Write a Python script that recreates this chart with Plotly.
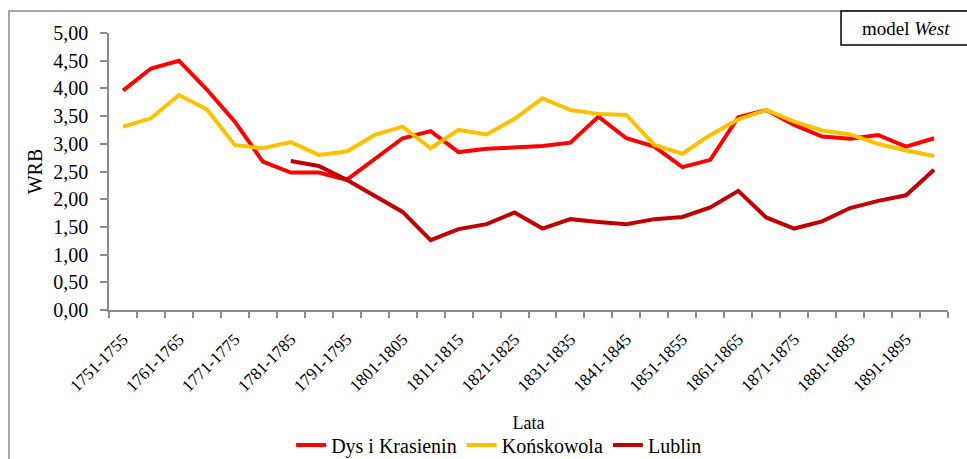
import plotly.graph_objects as go

# Five-year periods 1751-1755 ... 1896-1900
periods = [f"{y}-{y + 4}" for y in range(1751, 1900, 5)]

dys_krasienin = [3.96, 4.36, 4.50, 3.98, 3.40, 2.68, 2.48, 2.48, 2.35, 2.72,
                 3.10, 3.23, 2.85, 2.91, 2.94, 2.96, 3.02, 3.49, 3.10, 2.95,
                 2.58, 2.71, 3.48, 3.61, 3.34, 3.13, 3.09, 3.16, 2.95, 3.10]

konskowola = [3.31, 3.46, 3.88, 3.62, 2.98, 2.92, 3.03, 2.80, 2.86, 3.16,
              3.31, 2.92, 3.25, 3.17, 3.45, 3.82, 3.61, 3.54, 3.52, 2.98,
              2.82, 3.16, 3.44, 3.61, 3.40, 3.24, 3.17, 3.00, 2.88, 2.78]

lublin = [None, None, None, None, None, None, 2.69, 2.60, 2.35, 2.05,
          1.77, 1.26, 1.46, 1.55, 1.76, 1.47, 1.64, 1.59, 1.55, 1.64,
          1.68, 1.85, 2.15, 1.67, 1.47, 1.60, 1.84, 1.97, 2.07, 2.53]

series = [
    ("Dys i Krasienin", dys_krasienin, "#FF0000"),
    ("Końskowola", konskowola, "#FFC000"),
    ("Lublin", lublin, "#C00000"),
]

FONT = "Liberation Serif"
INK = "#000000"
GRAY = "#8c8c8c"


def serif(size):
    return dict(family=FONT, size=size, color=INK)


idx = list(range(len(periods)))

fig = go.Figure()
for name, vals, color in series:
    fig.add_trace(go.Scatter(
        x=idx, y=vals, name=name, mode="lines",
        line=dict(color=color, width=4),
        connectgaps=False,
    ))

fig.update_layout(
    width=967, height=459,
    margin=dict(l=109, r=19, t=33, b=149, autoexpand=False),
    paper_bgcolor="white", plot_bgcolor="white",
    separators=", ",
    showlegend=True,
    legend=dict(orientation="h", x=0.465, xanchor="center",
                y=-0.487, yanchor="middle",
                font=serif(20),
                itemwidth=30, tracegroupgap=0),
    xaxis=dict(
        range=[-0.5, len(periods) - 0.5],
        tickmode="array",
        tickvals=idx[::2],
        ticktext=periods[::2],
        tickangle=-45,
        ticks="",
        ticklabelstandoff=11,
        automargin=False,
        showline=True, linecolor=GRAY, linewidth=1.5,
        showgrid=False, zeroline=False,
        minor=dict(tickmode="array",
                   tickvals=[i - 0.5 for i in range(len(periods) + 1)],
                   ticks="outside", ticklen=6, tickcolor=GRAY, tickwidth=1.5,
                   showgrid=False),
        tickfont=serif(17),
        title=dict(text="Lata", font=serif(18), standoff=22),
    ),
    yaxis=dict(
        range=[0, 5],
        tickmode="array",
        tickvals=[0, 0.5, 1, 1.5, 2, 2.5, 3, 3.5, 4, 4.5, 5],
        tickformat=".2f",
        ticks="outside", ticklen=7, tickcolor=GRAY, tickwidth=1.5,
        ticklabelstandoff=8,
        automargin=False,
        showline=True, linecolor=GRAY, linewidth=1.5,
        showgrid=False, zeroline=False,
        tickfont=serif(20),
        title=dict(text="WRB", font=serif(20), standoff=5),
    ),
)

# Outer chart frame
fig.add_shape(type="rect", xref="paper", yref="paper",
              x0=-0.1192, x1=1.2, y0=-1.0, y1=1.0794,
              line=dict(color=GRAY, width=1.5), fillcolor="rgba(0,0,0,0)",
              layer="below")

# Model label box in the top-right corner
fig.add_shape(type="rect", xref="paper", yref="paper",
              x0=0.8725, x1=1.2, y0=0.9567, y1=1.0794,
              line=dict(color="black", width=1.5), fillcolor="white")
fig.add_annotation(xref="paper", yref="paper", x=0.95, y=1.018,
                   text="model <i>West</i>", showarrow=False,
                   xanchor="center", yanchor="middle",
                   font=serif(19))

fig.write_html("out.html")
